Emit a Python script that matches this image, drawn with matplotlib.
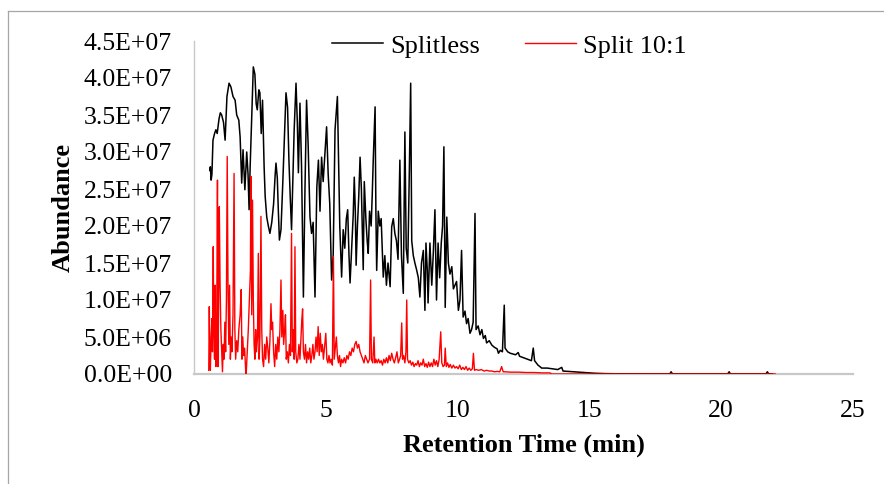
import matplotlib
matplotlib.use("Agg")
import matplotlib.pyplot as plt
from matplotlib.lines import Line2D
from matplotlib.ticker import FuncFormatter, MultipleLocator
import numpy as np

# ---------------- data ----------------
# Splitless trace: retention time (min) and abundance (millions of counts)
splitless_time = [
    0.60, 0.62, 0.65, 0.68, 0.72, 0.78, 0.83, 0.88, 0.95, 1.00, 1.05, 1.12, 1.18, 1.25, 1.33, 1.40,
    1.48, 1.56, 1.62, 1.70, 1.75, 1.81, 1.86, 1.93, 2.00, 2.05, 2.09, 2.13, 2.20, 2.25, 2.31, 2.36,
    2.40, 2.46, 2.50, 2.55, 2.60, 2.66, 2.70, 2.76, 2.82, 2.88, 2.95, 3.02, 3.08, 3.11, 3.16, 3.20,
    3.24, 3.30, 3.37, 3.43, 3.49, 3.55, 3.60, 3.65, 3.70, 3.75, 3.80, 3.87, 3.92, 3.96, 4.02, 4.08,
    4.15, 4.21, 4.27, 4.33, 4.40, 4.46, 4.52, 4.59, 4.66, 4.72, 4.78, 4.84, 4.90, 4.97, 5.03, 5.09,
    5.15, 5.22, 5.28, 5.35, 5.44, 5.48, 5.53, 5.60, 5.66, 5.72, 5.78, 5.83, 5.88, 5.92, 5.98, 6.04,
    6.08, 6.12, 6.15, 6.20, 6.25, 6.30, 6.35, 6.42, 6.46, 6.52, 6.57, 6.61, 6.66, 6.72, 6.76, 6.80,
    6.87, 6.90, 6.93, 6.99, 7.05, 7.10, 7.18, 7.24, 7.30, 7.36, 7.44, 7.50, 7.56, 7.62, 7.68, 7.74,
    7.81, 7.87, 7.94, 8.00, 8.05, 8.11, 8.17, 8.22, 8.26, 8.32, 8.38, 8.45, 8.51, 8.57, 8.63, 8.70,
    8.76, 8.80, 8.85, 8.88, 8.95, 9.02, 9.08, 9.14, 9.20, 9.26, 9.32, 9.38, 9.43, 9.48, 9.53, 9.59,
    9.65, 9.71, 9.78, 9.84, 9.90, 9.96, 10.03, 10.09, 10.15, 10.21, 10.28, 10.34, 10.40, 10.47, 10.53, 10.59,
    10.66, 10.70, 10.78, 10.85, 10.92, 10.98, 11.05, 11.10, 11.20, 11.30, 11.40, 11.50, 11.55, 11.62, 11.70, 11.77,
    11.80, 11.90, 12.00, 12.10, 12.20, 12.30, 12.35, 12.50, 12.65, 12.80, 12.87, 12.92, 13.05, 13.19, 13.40, 13.60,
    13.80, 13.95, 14.00, 14.20, 14.45, 14.80, 15.20, 15.60, 16.00, 17.00, 18.05, 18.10, 18.15, 19.00, 20.25, 20.30,
    20.35, 21.00, 21.70, 21.75, 21.80, 21.95,
]
splitless_abund = [
    27.5, 28.0, 26.2, 27.0, 31.6, 32.5, 33.0, 32.5, 34.5, 35.3, 35.0, 34.0, 31.6, 37.5, 39.3, 38.8,
    37.5, 37.0, 35.0, 34.3, 32.0, 25.8, 30.3, 24.9, 30.0, 27.0, 22.2, 28.0, 36.0, 41.5, 40.5, 36.5,
    35.7, 38.4, 38.0, 32.5, 37.0, 28.0, 24.0, 21.2, 20.0, 19.0, 20.5, 23.0, 27.0, 28.5, 26.5, 22.0,
    18.1, 19.5, 26.0, 32.0, 38.0, 36.0, 29.0, 24.0, 19.5, 26.0, 33.0, 39.3, 34.0, 27.2, 36.6, 28.0,
    10.4, 25.0, 37.0, 31.0, 21.2, 19.0, 20.5, 10.4, 25.3, 28.9, 22.0, 29.3, 26.0, 30.0, 33.4, 27.0,
    23.0, 12.7, 16.0, 33.0, 37.5, 30.0, 20.0, 13.1, 19.5, 17.0, 21.0, 22.2, 16.0, 12.3, 17.0, 21.5,
    26.6, 22.0, 14.7, 20.0, 24.0, 29.3, 25.0, 14.1, 26.0, 21.0, 18.0, 16.3, 22.0, 20.0, 24.0, 28.9,
    36.1, 22.0, 14.0, 22.0, 20.0, 21.0, 13.1, 16.0, 12.0, 15.0, 11.8, 19.9, 21.0, 19.0, 18.0, 15.5,
    28.9, 16.0, 10.9, 32.7, 17.0, 15.0, 27.6, 39.3, 18.0, 16.0, 15.0, 14.0, 13.0, 10.4, 15.0, 16.7,
    8.6, 17.7, 14.0, 9.6, 17.7, 12.0, 16.5, 22.2, 10.0, 17.7, 13.0, 17.7, 20.0, 30.7, 9.0, 21.2,
    15.0, 13.5, 14.5, 11.5, 12.0, 12.5, 8.6, 10.0, 16.7, 7.7, 8.5, 6.8, 7.5, 5.5, 6.0, 7.0,
    21.7, 6.0, 6.5, 5.3, 6.0, 4.8, 5.2, 4.2, 4.5, 3.9, 3.6, 3.4, 2.8, 3.2, 3.0, 9.3,
    3.5, 3.0, 2.8, 2.7, 2.6, 2.9, 2.4, 2.2, 2.0, 1.8, 3.5, 1.8, 1.2, 0.8, 0.8, 0.7,
    0.6, 0.9, 0.4, 0.35, 0.3, 0.2, 0.1, 0.05, 0.03, 0.02, 0.02, 0.3, 0.02, 0.02, 0.02, 0.3,
    0.02, 0.02, 0.02, 0.3, 0.02, 0.0,
]

# Split 10:1 trace: retention time (min) and abundance (millions of counts)
split_time = [
    0.56, 0.58, 0.60, 0.62, 0.65, 0.68, 0.70, 0.73, 0.75, 0.78, 0.80, 0.83, 0.86, 0.89, 0.91, 0.93,
    0.96, 0.99, 1.02, 1.05, 1.08, 1.11, 1.14, 1.17, 1.20, 1.23, 1.26, 1.29, 1.32, 1.35, 1.38, 1.41,
    1.44, 1.48, 1.52, 1.55, 1.58, 1.62, 1.66, 1.70, 1.75, 1.79, 1.82, 1.85, 1.88, 1.92, 1.96, 1.98,
    2.02, 2.06, 2.10, 2.14, 2.16, 2.19, 2.22, 2.25, 2.28, 2.31, 2.34, 2.37, 2.41, 2.44, 2.47, 2.50,
    2.54, 2.57, 2.60, 2.64, 2.68, 2.72, 2.76, 2.80, 2.84, 2.88, 2.92, 2.95, 2.98, 3.02, 3.06, 3.10,
    3.14, 3.18, 3.22, 3.26, 3.30, 3.33, 3.37, 3.40, 3.44, 3.47, 3.50, 3.54, 3.58, 3.62, 3.66, 3.70,
    3.73, 3.77, 3.80, 3.83, 3.86, 3.90, 3.94, 3.98, 4.02, 4.06, 4.09, 4.12, 4.15, 4.19, 4.23, 4.27,
    4.31, 4.35, 4.39, 4.43, 4.47, 4.51, 4.55, 4.59, 4.63, 4.67, 4.71, 4.75, 4.79, 4.83, 4.87, 4.91,
    4.95, 5.00, 5.04, 5.08, 5.12, 5.16, 5.20, 5.25, 5.29, 5.32, 5.36, 5.40, 5.44, 5.48, 5.52, 5.56,
    5.60, 5.65, 5.70, 5.75, 5.80, 5.85, 5.90, 5.95, 6.00, 6.05, 6.10, 6.15, 6.20, 6.25, 6.30, 6.35,
    6.40, 6.45, 6.50, 6.55, 6.60, 6.66, 6.70, 6.73, 6.78, 6.83, 6.86, 6.90, 6.95, 7.00, 7.05, 7.10,
    7.15, 7.20, 7.25, 7.30, 7.35, 7.40, 7.45, 7.50, 7.55, 7.60, 7.65, 7.70, 7.75, 7.80, 7.84, 7.88,
    7.91, 7.95, 8.00, 8.04, 8.07, 8.10, 8.15, 8.20, 8.25, 8.30, 8.35, 8.40, 8.45, 8.50, 8.55, 8.60,
    8.65, 8.70, 8.75, 8.80, 8.85, 8.90, 8.95, 9.00, 9.05, 9.10, 9.15, 9.20, 9.25, 9.30, 9.36, 9.40,
    9.45, 9.50, 9.53, 9.57, 9.62, 9.67, 9.72, 9.78, 9.84, 9.90, 9.96, 10.02, 10.08, 10.14, 10.20, 10.26,
    10.32, 10.38, 10.44, 10.50, 10.56, 10.60, 10.64, 10.70, 10.80, 10.90, 11.00, 11.10, 11.20, 11.30, 11.40, 11.50,
    11.60, 11.67, 11.73, 11.80, 12.00, 12.30, 12.60, 12.90, 13.20, 13.50, 13.57, 14.00, 16.00, 18.00, 20.00, 22.05,
]
split_abund = [
    0.5, 9.1, 3.0, 0.5, 5.0, 7.5, 3.0, 17.2, 6.0, 2.0, 12.0, 1.0, 5.5, 26.2, 1.0, 8.0,
    22.6, 12.0, 6.0, 3.0, 0.3, 4.0, 2.0, 7.0, 3.0, 10.0, 29.4, 12.0, 4.0, 12.0, 2.0, 5.0,
    3.0, 8.0, 27.1, 6.0, 2.0, 4.5, 3.0, 6.0, 8.0, 11.4, 2.0, 5.0, 2.5, 3.5, 0.5, 0.0,
    3.0, 6.0, 10.0, 14.0, 26.7, 8.0, 23.5, 10.0, 4.0, 2.0, 6.0, 3.0, 5.0, 16.3, 2.0, 5.0,
    21.3, 6.0, 2.0, 1.0, 4.0, 2.0, 5.0, 3.5, 1.5, 4.5, 9.5, 6.0, 7.0, 3.0, 1.0, 4.0,
    2.0, 5.0, 3.0, 6.0, 12.7, 5.0, 8.6, 4.0, 6.0, 8.0, 2.0, 3.0, 1.5, 4.0, 2.5, 19.0,
    3.0, 6.0, 2.0, 17.2, 3.0, 1.5, 2.0, 4.0, 2.0, 5.0, 7.3, 8.8, 3.0, 2.0, 4.0, 1.5,
    3.0, 2.0, 3.5, 1.5, 2.5, 4.0, 2.0, 3.0, 5.0, 3.0, 6.4, 2.5, 5.5, 3.0, 4.0, 2.0,
    3.5, 5.5, 2.0, 1.5, 2.5, 1.5, 2.0, 1.2, 15.9, 2.0, 3.5, 5.0, 2.5, 1.5, 2.5, 1.0,
    2.0, 1.5, 2.2, 1.5, 2.5, 2.0, 3.0, 2.5, 3.5, 3.0, 4.0, 4.4, 3.5, 4.0, 3.0, 2.5,
    2.0, 1.5, 2.5, 2.0, 1.5, 2.0, 12.7, 2.0, 1.5, 5.0, 1.5, 2.0, 1.5, 2.0, 1.5, 1.8,
    1.2, 2.0, 1.5, 2.2, 1.5, 2.5, 1.8, 2.8, 2.0, 1.5, 2.2, 3.0, 1.5, 2.0, 2.5, 6.9,
    2.0, 2.5, 1.5, 3.0, 10.0, 2.0, 1.5, 1.8, 1.2, 1.6, 1.0, 1.4, 1.2, 1.8, 1.0, 1.5,
    1.2, 2.0, 1.0, 1.4, 0.9, 1.6, 1.0, 1.5, 1.0, 2.0, 1.2, 1.8, 1.0, 2.0, 5.7, 1.5,
    1.0, 1.2, 3.5, 1.0, 1.5, 0.9, 1.3, 0.8, 1.2, 0.8, 1.0, 0.7, 1.2, 0.6, 0.9, 0.6,
    1.0, 0.5, 0.8, 0.5, 0.7, 2.8, 0.5, 0.6, 0.5, 0.6, 0.4, 0.5, 0.4, 0.4, 0.3, 0.35,
    0.3, 1.0, 0.3, 0.3, 0.25, 0.25, 0.2, 0.2, 0.15, 0.15, 0.0, 0.0, 0.0, 0.0, 0.0, 0.0,
]

series_labels = ["Splitless", "Split 10:1"]
x_label = "Retention Time (min)"
y_label = "Abundance"

# ---------------- plotting ----------------
plt.rcParams["font.family"] = ["Liberation Serif", "DejaVu Serif"]

fig = plt.figure(figsize=(8.84, 4.84), dpi=100)
ax = fig.add_axes([194 / 884, 1 - 374 / 484, (853 - 194) / 884, (374 - 41) / 484])

scale = 1e6
ax.plot(splitless_time, np.array(splitless_abund) * scale, color="black", lw=1.1,
        label=series_labels[0], zorder=3)
ax.plot(split_time, np.array(split_abund) * scale, color="#FF0000", lw=1.0,
        label=series_labels[1], zorder=4)

ax.set_xlim(0, 25)
ax.set_ylim(0, 4.5e7)
ax.xaxis.set_major_locator(MultipleLocator(5))
ax.yaxis.set_major_locator(MultipleLocator(5e6))
ax.yaxis.set_major_formatter(FuncFormatter(lambda v, p: f"{v:.1E}"))

for s in ["top", "right"]:
    ax.spines[s].set_visible(False)
ax.spines["left"].set_color("#C8C8C8")
ax.spines["left"].set_linewidth(1.0)
ax.spines["bottom"].set_color("#C8C8C8")
ax.spines["bottom"].set_linewidth(1.6)
ax.spines["bottom"].set_zorder(2)

ax.tick_params(axis="both", length=0, labelsize=18.5, colors="black")
ax.tick_params(axis="x", pad=19)
ax.tick_params(axis="y", pad=16)

ax.set_xlabel(x_label, fontsize=19, fontweight="bold", labelpad=8)
ax.set_ylabel(y_label, fontsize=19, fontweight="bold", labelpad=6)

leg = ax.legend(loc="center", bbox_to_anchor=(0.478, 0.985), ncol=2, frameon=False,
                fontsize=19, handlelength=1.95, handletextpad=0.25, columnspacing=1.7)

# outer chart border (left and top edges visible)
fig.add_artist(Line2D([8 / 884, 8 / 884], [0, 1 - 11 / 484], transform=fig.transFigure,
                      color="#A6A6A6", lw=0.9))
fig.add_artist(Line2D([8 / 884, 1], [1 - 11 / 484, 1 - 11 / 484], transform=fig.transFigure,
                      color="#A6A6A6", lw=0.9))

fig.savefig("out.png", dpi=100)
